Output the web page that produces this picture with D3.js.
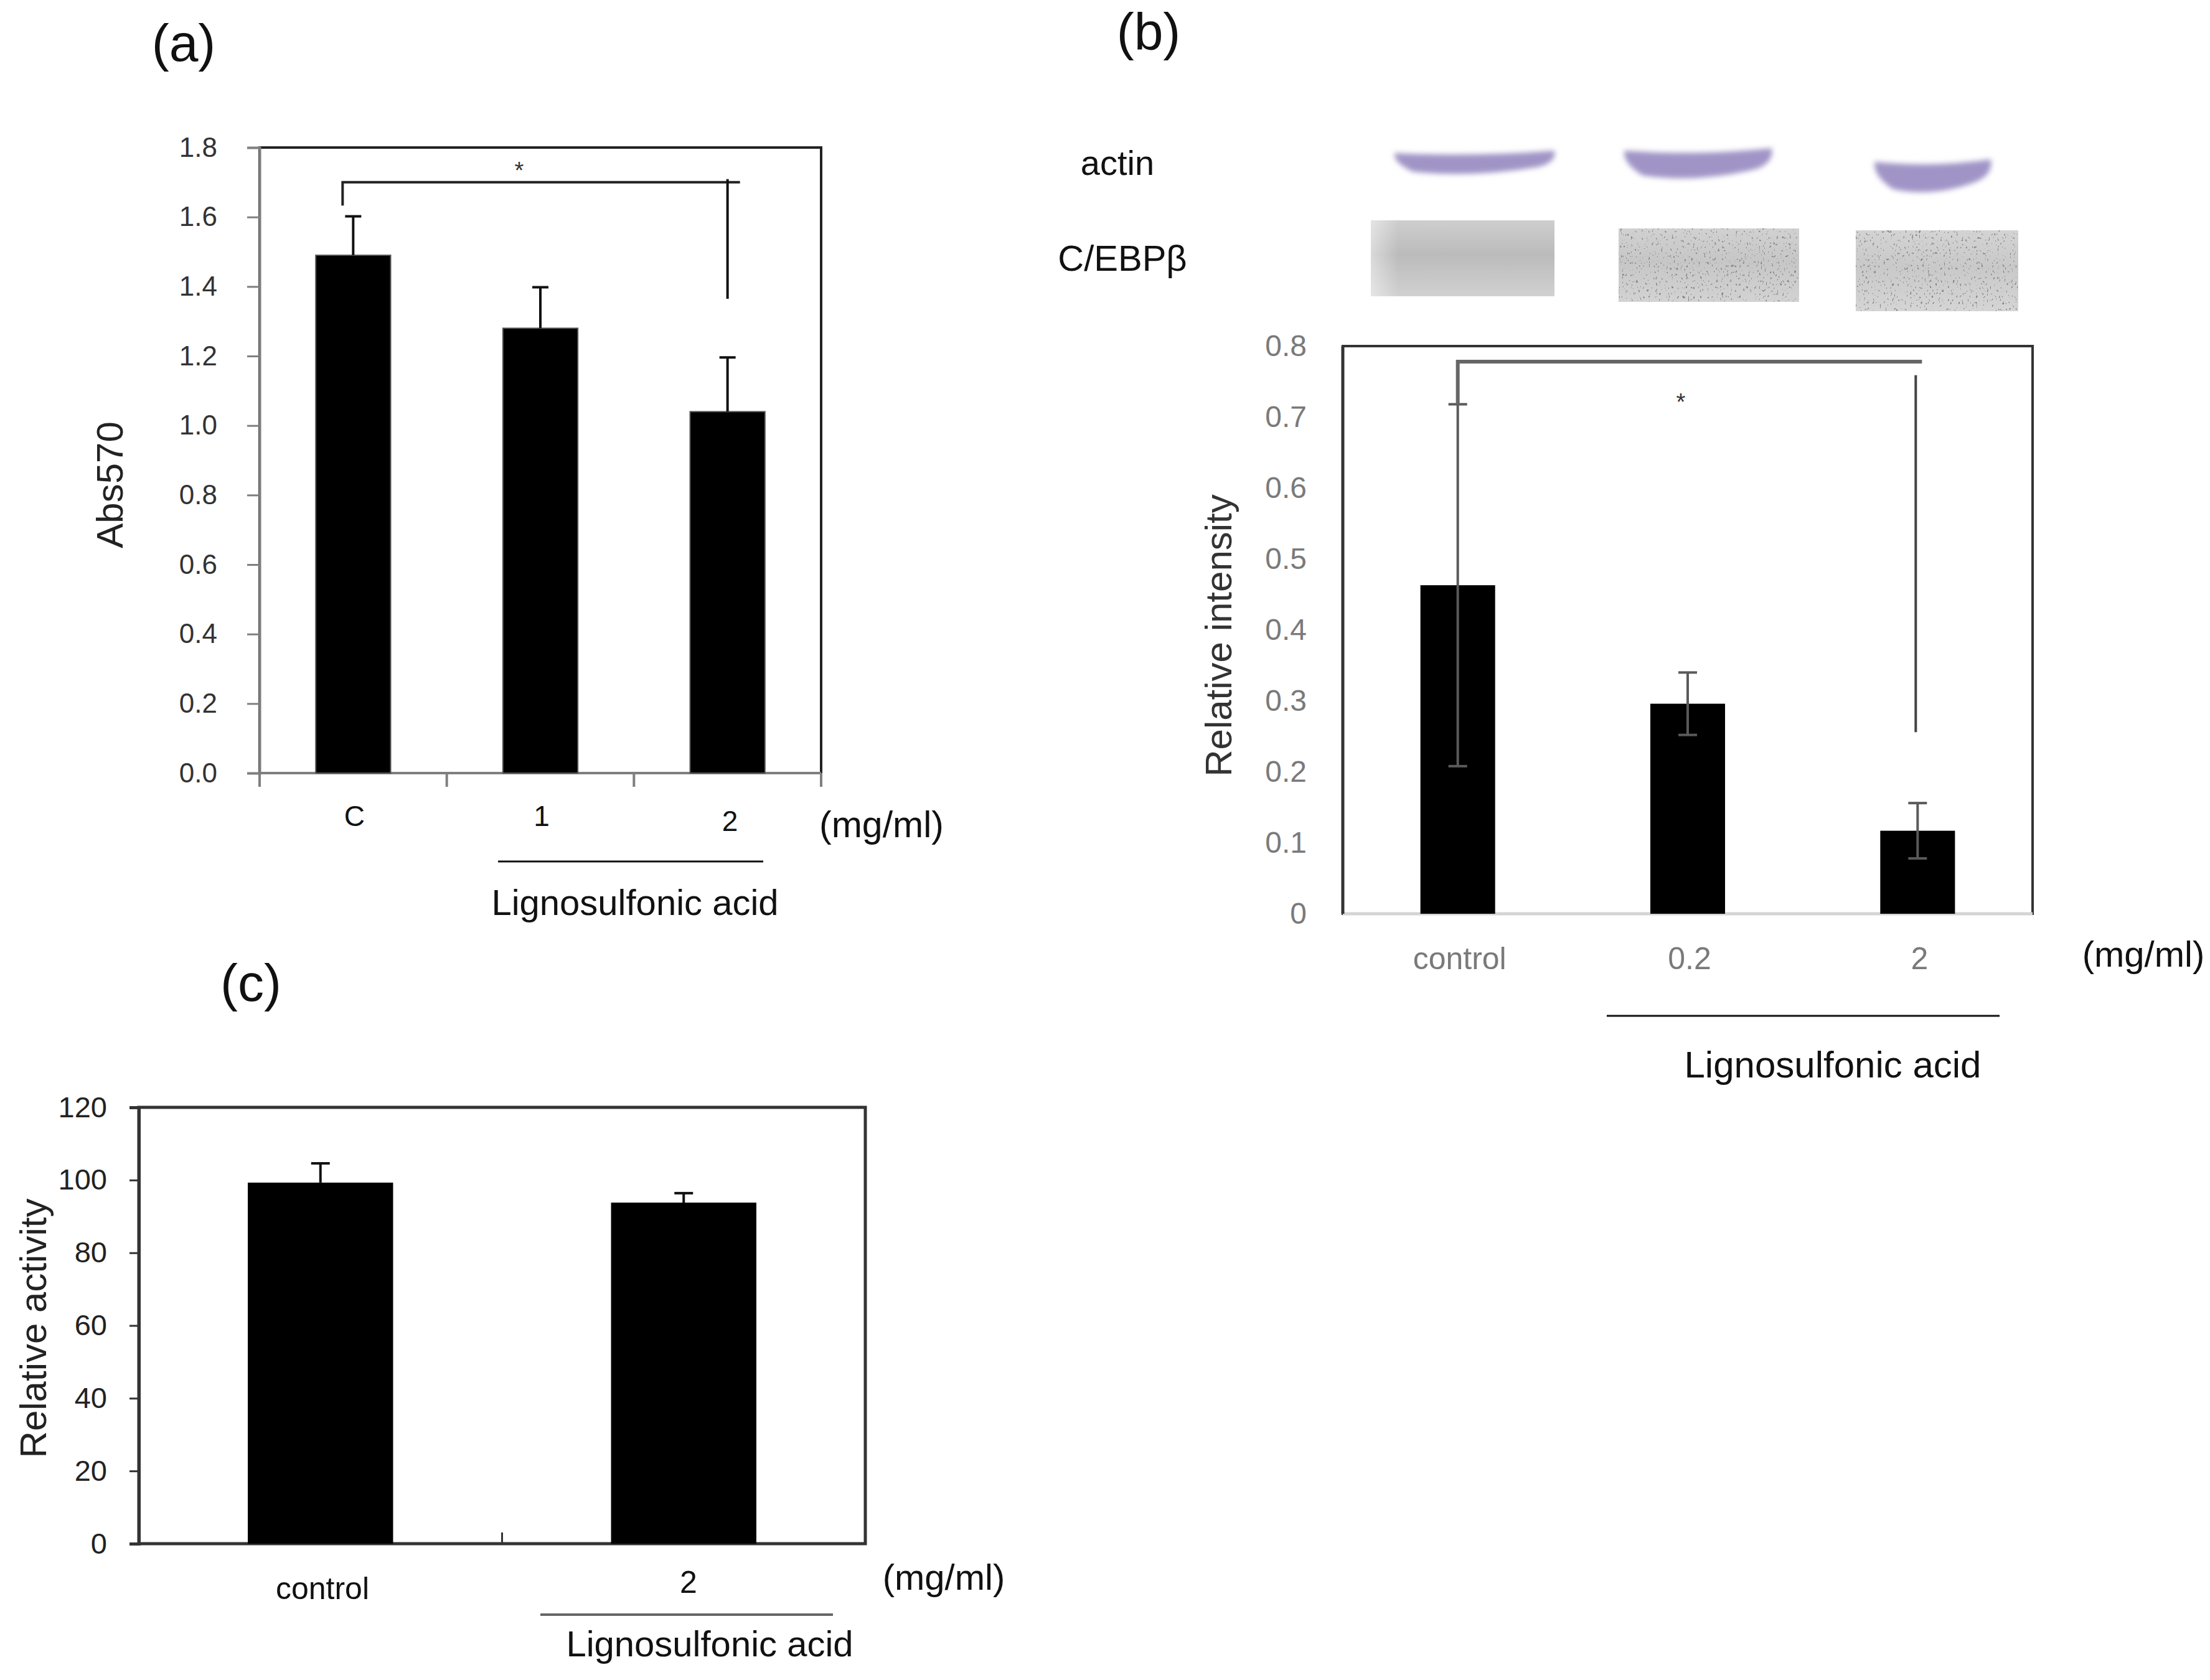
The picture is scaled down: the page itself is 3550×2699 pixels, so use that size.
<!DOCTYPE html>
<html>
<head>
<meta charset="utf-8">
<script src="https://cdn.jsdelivr.net/npm/d3@7"></script>
<style>
  html, body { margin: 0; padding: 0; background: #fff; }
  svg text { font-family: "Liberation Sans", Arial, sans-serif; }
</style>
</head>
<body>
<svg id="fig" width="3550" height="2699"></svg>
<script>
// ---- data ----
// (a) Abs570
var aCategories = ["C", "1", "2"];
var aValues = [1.49, 1.28, 1.04];
var aErrors = [0.112, 0.118, 0.156];
var aTicks = [0, 0.2, 0.4, 0.6, 0.8, 1.0, 1.2, 1.4, 1.6, 1.8];
var aBracket = [1.70, 1.633, 1.365]; // bar level, left leg end, right leg end

// (b) Relative intensity of C/EBPb
var bCategories = ["control", "0.2", "2"];
var bValues = [0.463, 0.296, 0.117];
var bErrors = [0.255, 0.044, 0.039];
var bTicks = [0, 0.1, 0.2, 0.3, 0.4, 0.5, 0.6, 0.7, 0.8];
var bBracket = [0.778, 0.759, 0.256];

// (c) Relative activity
var cCategories = ["control", "2"];
var cValues = [99.3, 93.8];
var cErrors = [5.3, 2.6];
var cTicks = [0, 20, 40, 60, 80, 100, 120];

var svg = d3.select("#fig");
svg.append("rect").attr("width", 3550).attr("height", 2699).attr("fill", "#fff");

// filters for the blot pictures
var defs = svg.append("defs");
defs.append("filter").attr("id", "soft")
    .attr("x", "-10%").attr("y", "-30%").attr("width", "120%").attr("height", "160%")
  .append("feGaussianBlur").attr("stdDeviation", 4);

var speck = defs.append("filter").attr("id", "speck")
    .attr("x", 0).attr("y", 0).attr("width", 1).attr("height", 1);
speck.append("feTurbulence").attr("type", "fractalNoise")
    .attr("baseFrequency", "0.35 0.2").attr("numOctaves", 2).attr("seed", 11).attr("result", "n");
speck.append("feColorMatrix").attr("in", "n").attr("type", "matrix")
    .attr("values", "0 0 0 0 0.2  0 0 0 0 0.2  0 0 0 0 0.2  14 0 0 0 -9.3")
    .attr("result", "dots");
speck.append("feComposite").attr("in", "dots").attr("in2", "SourceGraphic").attr("operator", "in");

var grad = defs.append("linearGradient").attr("id", "blotGray")
    .attr("x1", 0).attr("y1", 0).attr("x2", 0).attr("y2", 1);
grad.append("stop").attr("offset", "0%").attr("stop-color", "#d0d0d0");
grad.append("stop").attr("offset", "45%").attr("stop-color", "#b5b5b5");
grad.append("stop").attr("offset", "100%").attr("stop-color", "#d4d4d4");

var side = defs.append("linearGradient").attr("id", "blotSide")
    .attr("x1", 0).attr("y1", 0).attr("x2", 1).attr("y2", 0);
side.append("stop").attr("offset", "0%").attr("stop-color", "#fff").attr("stop-opacity", 0.45);
side.append("stop").attr("offset", "15%").attr("stop-color", "#fff").attr("stop-opacity", 0);

function txt(g, x, y, s, size, opts) {
  opts = opts || {};
  var t = g.append("text")
      .attr("x", x).attr("y", y)
      .attr("dy", "0.28em")
      .attr("text-anchor", opts.anchor || "middle")
      .attr("font-size", size)
      .attr("fill", opts.fill || "#111")
      .text(s);
  if (opts.rotate) t.attr("transform", "rotate(-90," + x + "," + y + ")");
  return t;
}

// ---------------- panel (a) ----------------
(function () {
  var L = 417, R = 1319, T = 237, B = 1242;
  var g = svg.append("g");
  var x = d3.scaleBand().domain(aCategories).range([L, R]).paddingInner(0.6).paddingOuter(0.3);
  var xs = d3.scaleBand().domain(aCategories).range([L, R]);
  var y = d3.scaleLinear().domain([0, 1.8]).range([B, T]);

  g.append("rect").attr("x", L).attr("y", T).attr("width", R - L).attr("height", B - T)
      .attr("fill", "none").attr("stroke", "#222").attr("stroke-width", 4);

  var ya = g.append("g").attr("transform", "translate(" + L + ",0)")
      .call(d3.axisLeft(y).tickValues(aTicks).tickSize(20).tickPadding(48).tickFormat(d3.format(".1f")));
  ya.select(".domain").attr("stroke", "#7f7f7f").attr("stroke-width", 4);
  ya.selectAll(".tick line").attr("stroke", "#7f7f7f").attr("stroke-width", 3);
  ya.selectAll(".tick text").attr("font-size", 44).attr("fill", "#333")
      .attr("font-family", "Liberation Sans, Arial, sans-serif");

  // category boundary ticks below the axis
  var bounds = aCategories.map(function (c) { return xs(c); }).concat([R]);
  g.selectAll(".xt").data(bounds).enter().append("line")
      .attr("x1", function (d) { return d; }).attr("x2", function (d) { return d; })
      .attr("y1", B).attr("y2", B + 22).attr("stroke", "#7f7f7f").attr("stroke-width", 4);
  g.append("line").attr("x1", L).attr("x2", R).attr("y1", B).attr("y2", B)
      .attr("stroke", "#7f7f7f").attr("stroke-width", 4);

  g.selectAll(".bar").data(aValues).enter().append("rect")
      .attr("x", function (d, i) { return x(aCategories[i]); })
      .attr("width", x.bandwidth())
      .attr("y", function (d) { return y(d); })
      .attr("height", function (d) { return B - y(d); })
      .attr("fill", "#000").attr("stroke", "#555").attr("stroke-width", 2);

  var eb = g.selectAll(".err").data(aValues).enter().append("g");
  eb.append("line")
      .attr("x1", function (d, i) { return xs(aCategories[i]) + xs.bandwidth() / 2; })
      .attr("x2", function (d, i) { return xs(aCategories[i]) + xs.bandwidth() / 2; })
      .attr("y1", function (d) { return y(d); })
      .attr("y2", function (d, i) { return y(d + aErrors[i]); })
      .attr("stroke", "#111").attr("stroke-width", 4);
  eb.append("line")
      .attr("x1", function (d, i) { return xs(aCategories[i]) + xs.bandwidth() / 2 - 13; })
      .attr("x2", function (d, i) { return xs(aCategories[i]) + xs.bandwidth() / 2 + 13; })
      .attr("y1", function (d, i) { return y(d + aErrors[i]); })
      .attr("y2", function (d, i) { return y(d + aErrors[i]); })
      .attr("stroke", "#111").attr("stroke-width", 4);

  // significance bracket
  var c0 = xs("C") + xs.bandwidth() / 2 - 17, c2 = xs("2") + xs.bandwidth() / 2;
  g.append("path")
      .attr("d", "M" + c0 + "," + y(aBracket[1]) + "V" + y(aBracket[0]) + "H" + (c2 + 20))
      .attr("fill", "none").attr("stroke", "#222").attr("stroke-width", 4);
  g.append("line").attr("x1", c2).attr("x2", c2)
      .attr("y1", y(aBracket[0]) - 5).attr("y2", y(aBracket[2]))
      .attr("stroke", "#111").attr("stroke-width", 4);
  txt(g, (L + R) / 2 - 34, y(aBracket[0]) - 16, "*", 38, { fill: "#333" });

  aCategories.forEach(function (c, i) {
    txt(g, xs(c) + xs.bandwidth() / 2 + (i === 2 ? 4 : 2), 1314 + (i === 2 ? 8 : 0), c, 46);
  });
  txt(g, 1416, 1328, "(mg/ml)", 59);
  g.append("line").attr("x1", 800).attr("x2", 1226).attr("y1", 1384).attr("y2", 1384)
      .attr("stroke", "#111").attr("stroke-width", 3);
  txt(g, 1020, 1454, "Lignosulfonic acid", 58);
  txt(g, 180, 779, "Abs570", 60, { rotate: true, fill: "#222" });
  txt(g, 295, 74, "(a)", 84);
})();

// ---------------- panel (b) ----------------
(function () {
  var L = 2157, R = 3265, T = 556, B = 1468;
  var g = svg.append("g");
  var x = d3.scaleBand().domain(bCategories).range([L, R]).paddingInner(0.675).paddingOuter(0.3375);
  var xs = d3.scaleBand().domain(bCategories).range([L, R]);
  var y = d3.scaleLinear().domain([0, 0.8]).range([B, T]);
  var cx = function (c) { return xs(c) + xs.bandwidth() / 2; };

  // blot strips above the chart
  var actin = [
    { x0: 2240, x1: 2497, yt: 244, yb: 276 },
    { x0: 2609, x1: 2846, yt: 240, yb: 282 },
    { x0: 3011, x1: 3198, yt: 258, yb: 304 }
  ];
  g.selectAll(".actin").data(actin).enter().append("path")
      .attr("d", function (d) {
        var m = (d.x0 + d.x1) / 2, h = d.yb - d.yt;
        return "M" + d.x0 + "," + (d.yt + 2) +
          "Q" + m + "," + (d.yt + h * 0.25) + " " + d.x1 + "," + (d.yt - 2) +
          "Q" + (d.x1 + 4) + "," + (d.yt + h * 0.5) + " " + (d.x1 - 25) + "," + (d.yt + h * 0.75) +
          "Q" + m + "," + (d.yb + h * 0.3) + " " + (d.x0 + 30) + "," + d.yb +
          "Q" + (d.x0 - 2) + "," + (d.yt + h * 0.55) + " " + d.x0 + "," + (d.yt + 2) + "Z";
      })
      .attr("fill", "#a094c6").attr("filter", "url(#soft)");

  var cebp = [
    { x: 2202, y: 354, w: 295, h: 122, base: "#c9c9c9" },
    { x: 2600, y: 367, w: 290, h: 118, base: "#d2d2d2" },
    { x: 2981, y: 370, w: 261, h: 130, base: "#d6d6d6" }
  ];
  var boxes = g.selectAll(".cebp").data(cebp).enter().append("g");
  boxes.append("rect").attr("x", function (d) { return d.x; }).attr("y", function (d) { return d.y; })
      .attr("width", function (d) { return d.w; }).attr("height", function (d) { return d.h; })
      .attr("fill", function (d) { return d.base; });
  boxes.append("rect").attr("x", function (d) { return d.x; }).attr("y", function (d) { return d.y; })
      .attr("width", function (d) { return d.w; }).attr("height", function (d) { return d.h; })
      .attr("fill", "url(#blotGray)").attr("opacity", function (d, i) { return i === 0 ? 0.7 : 0.4; });
  boxes.filter(function (d, i) { return i === 0; }).append("rect")
      .attr("x", function (d) { return d.x; }).attr("y", function (d) { return d.y; })
      .attr("width", function (d) { return d.w; }).attr("height", function (d) { return d.h; })
      .attr("fill", "url(#blotSide)");
  boxes.filter(function (d, i) { return i > 0; }).append("rect")
      .attr("x", function (d) { return d.x; }).attr("y", function (d) { return d.y; })
      .attr("width", function (d) { return d.w; }).attr("height", function (d) { return d.h; })
      .attr("fill", "#000").attr("filter", "url(#speck)").attr("opacity", 0.85);

  txt(g, 1795, 265, "actin", 56);
  txt(g, 1803, 419, "C/EBPβ", 58);

  g.append("rect").attr("x", L).attr("y", T).attr("width", R - L).attr("height", B - T)
      .attr("fill", "none").attr("stroke", "#333").attr("stroke-width", 4);
  g.append("line").attr("x1", L).attr("x2", R).attr("y1", B).attr("y2", B)
      .attr("stroke", "#d4d4d4").attr("stroke-width", 5);
  g.append("line").attr("x1", L).attr("x2", L).attr("y1", T).attr("y2", B)
      .attr("stroke", "#333").attr("stroke-width", 5);

  var ya = g.append("g").attr("transform", "translate(" + L + ",0)")
      .call(d3.axisLeft(y).tickValues(bTicks).tickSize(0).tickPadding(58)
        .tickFormat(function (d) { return d === 0 ? "0" : d3.format(".1f")(d); }));
  ya.select(".domain").remove();
  ya.selectAll(".tick text").attr("font-size", 48).attr("fill", "#7a7a7a")
      .attr("font-family", "Liberation Sans, Arial, sans-serif");

  g.selectAll(".bar").data(bValues).enter().append("rect")
      .attr("x", function (d, i) { return x(bCategories[i]); })
      .attr("width", x.bandwidth())
      .attr("y", function (d) { return y(d); })
      .attr("height", function (d) { return B - y(d); })
      .attr("fill", "#000");

  var eb = g.selectAll(".err").data(bValues).enter().append("g")
      .attr("stroke", "#5a5a5a").attr("stroke-width", 4);
  eb.append("line")
      .attr("x1", function (d, i) { return cx(bCategories[i]); })
      .attr("x2", function (d, i) { return cx(bCategories[i]); })
      .attr("y1", function (d, i) { return y(d - bErrors[i]); })
      .attr("y2", function (d, i) { return y(d + bErrors[i]); });
  [-1, 1].forEach(function (s) {
    eb.append("line")
        .attr("x1", function (d, i) { return cx(bCategories[i]) - 15; })
        .attr("x2", function (d, i) { return cx(bCategories[i]) + 15; })
        .attr("y1", function (d, i) { return y(d + s * bErrors[i]); })
        .attr("y2", function (d, i) { return y(d + s * bErrors[i]); });
  });

  var c0 = cx("control"), c2 = cx("2");
  g.append("path")
      .attr("d", "M" + c0 + "," + y(bValues[0] + bErrors[0]) + "V" + y(bBracket[0]) + "H" + (c2 + 7))
      .attr("fill", "none").attr("stroke", "#666").attr("stroke-width", 6);
  g.append("line").attr("x1", c2 - 3).attr("x2", c2 - 3)
      .attr("y1", y(bBracket[1])).attr("y2", y(bBracket[2]))
      .attr("stroke", "#444").attr("stroke-width", 4);
  txt(g, 2700, 648, "*", 38, { fill: "#333" });

  bCategories.forEach(function (c) {
    txt(g, cx(c) + 3, 1543, c, 50, { fill: "#7a7a7a" });
  });
  txt(g, 3443, 1537, "(mg/ml)", 58);
  g.append("line").attr("x1", 2581).attr("x2", 3212).attr("y1", 1632).attr("y2", 1632)
      .attr("stroke", "#111").attr("stroke-width", 3);
  txt(g, 2944, 1714, "Lignosulfonic acid", 60);
  txt(g, 1961, 1021, "Relative intensity", 60, { rotate: true, fill: "#333" });
  txt(g, 1845, 56, "(b)", 84);
})();

// ---------------- panel (c) ----------------
(function () {
  var L = 223, R = 1390, T = 1779, B = 2480;
  var g = svg.append("g");
  var x = d3.scaleBand().domain(cCategories).range([L, R]).paddingInner(0.6).paddingOuter(0.3);
  var xs = d3.scaleBand().domain(cCategories).range([L, R]);
  var y = d3.scaleLinear().domain([0, 120]).range([B, T]);
  var cx = function (c) { return xs(c) + xs.bandwidth() / 2; };

  g.append("rect").attr("x", L).attr("y", T).attr("width", R - L).attr("height", B - T)
      .attr("fill", "none").attr("stroke", "#333").attr("stroke-width", 5);

  var ya = g.append("g").attr("transform", "translate(" + L + ",0)")
      .call(d3.axisLeft(y).tickValues(cTicks).tickSize(15).tickPadding(36));
  ya.select(".domain").attr("stroke", "#333").attr("stroke-width", 5);
  ya.selectAll(".tick line").attr("stroke", "#333").attr("stroke-width", 3);
  ya.selectAll(".tick text").attr("font-size", 47).attr("fill", "#222")
      .attr("font-family", "Liberation Sans, Arial, sans-serif");

  // inner tick between the two categories
  g.append("line").attr("x1", xs(cCategories[1])).attr("x2", xs(cCategories[1]))
      .attr("y1", B).attr("y2", B - 18).attr("stroke", "#333").attr("stroke-width", 3);

  g.selectAll(".bar").data(cValues).enter().append("rect")
      .attr("x", function (d, i) { return x(cCategories[i]); })
      .attr("width", x.bandwidth())
      .attr("y", function (d) { return y(d); })
      .attr("height", function (d) { return B - y(d); })
      .attr("fill", "#000");

  var eb = g.selectAll(".err").data(cValues).enter().append("g")
      .attr("stroke", "#111").attr("stroke-width", 4);
  eb.append("line")
      .attr("x1", function (d, i) { return cx(cCategories[i]); })
      .attr("x2", function (d, i) { return cx(cCategories[i]); })
      .attr("y1", function (d) { return y(d); })
      .attr("y2", function (d, i) { return y(d + cErrors[i]); });
  eb.append("line")
      .attr("x1", function (d, i) { return cx(cCategories[i]) - 15; })
      .attr("x2", function (d, i) { return cx(cCategories[i]) + 15; })
      .attr("y1", function (d, i) { return y(d + cErrors[i]); })
      .attr("y2", function (d, i) { return y(d + cErrors[i]); });

  txt(g, 518, 2555, cCategories[0], 50);
  txt(g, 1106, 2545, cCategories[1], 50);
  txt(g, 1516, 2538, "(mg/ml)", 58);
  g.append("line").attr("x1", 868).attr("x2", 1338).attr("y1", 2594).attr("y2", 2594)
      .attr("stroke", "#666").attr("stroke-width", 4);
  txt(g, 1140, 2645, "Lignosulfonic acid", 58);
  txt(g, 57, 2134, "Relative activity", 60, { rotate: true, fill: "#222" });
  txt(g, 403, 1584, "(c)", 84);
})();
</script>
</body>
</html>
